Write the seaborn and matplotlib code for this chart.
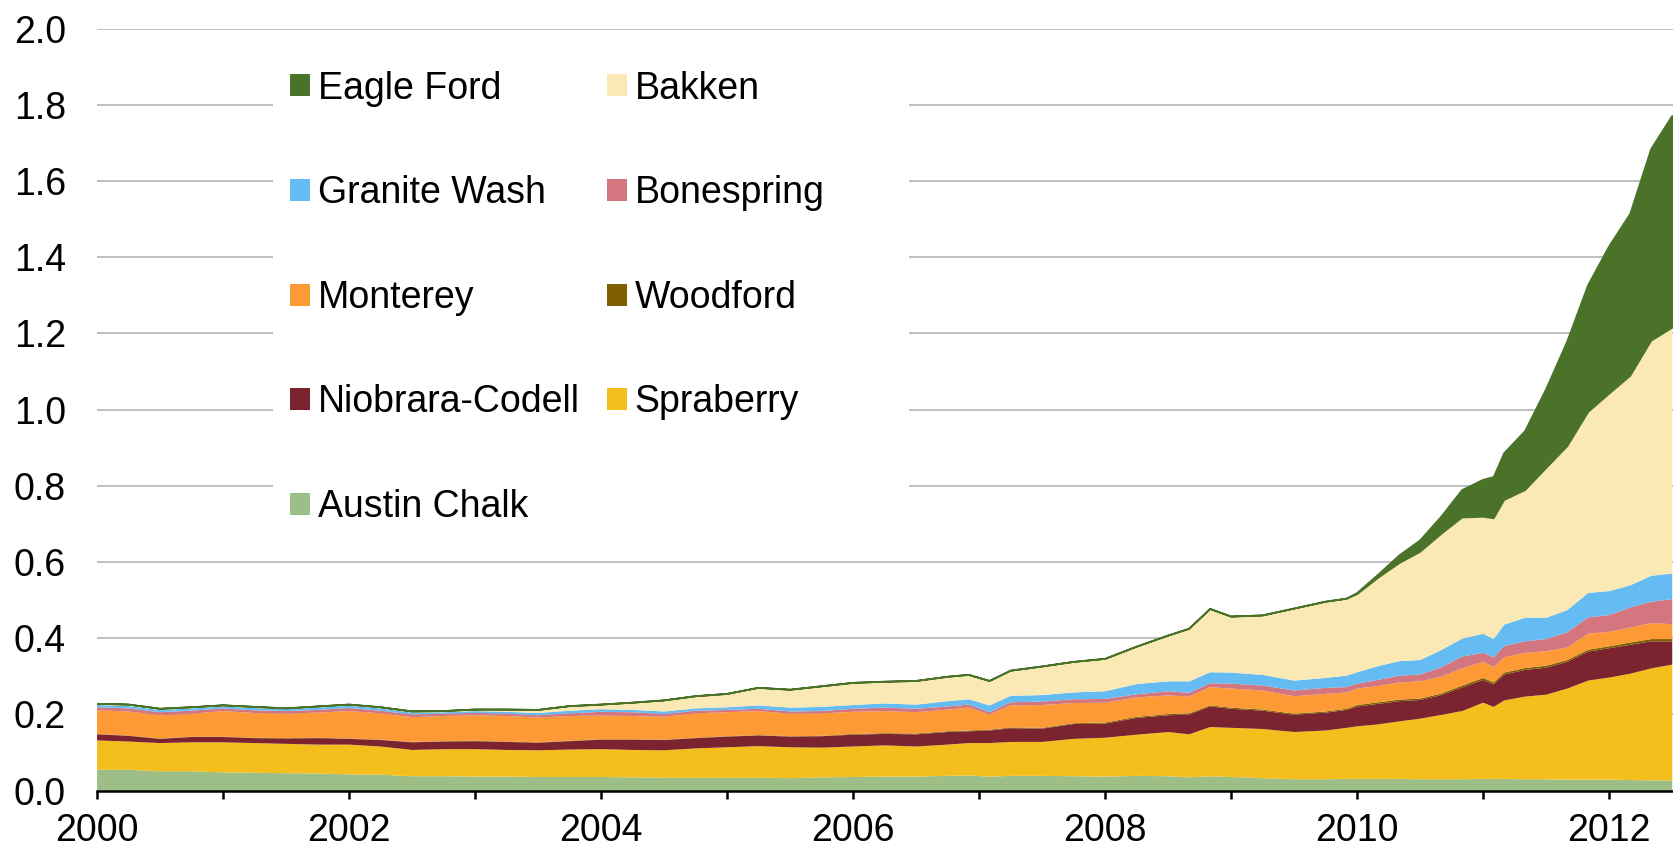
import numpy as np
import pandas as pd
import matplotlib
matplotlib.use("Agg")
import matplotlib.pyplot as plt
from matplotlib.patches import Patch, Rectangle
import seaborn as sns

# ---------------- data (million barrels per day, decimal years) ----------------
dates = [2000.0, 2000.25, 2000.5, 2000.75, 2001.0, 2001.25, 2001.5, 2001.75, 2002.0,
         2002.25, 2002.5, 2002.75, 2003.0, 2003.25, 2003.5, 2003.75, 2004.0,
         2004.25, 2004.5, 2004.75, 2005.0, 2005.25, 2005.5, 2005.75, 2006.0, 2006.25,
         2006.5, 2006.75, 2006.917, 2007.083, 2007.25, 2007.5, 2007.75, 2008.0,
         2008.25, 2008.5, 2008.667, 2008.833, 2009.0, 2009.25, 2009.5, 2009.75,
         2009.917, 2010.0, 2010.167, 2010.333, 2010.5, 2010.667, 2010.833, 2011.0,
         2011.083, 2011.167, 2011.333, 2011.5, 2011.667, 2011.833, 2012.0, 2012.167,
         2012.333, 2012.5]

austin_chalk = [.056, .056, .052, .052, .049, .048, .047, .046, .044,
                .043, .039, .039, .038, .038, .037, .037, .037,
                .036, .035, .035, .035, .035, .034, .036, .037, .038,
                .038, .040, .041, .038, .040, .040, .039, .038,
                .040, .039, .036, .039, .037, .034, .031, .031,
                .032, .032, .032, .032, .031, .031, .031, .032,
                .032, .032, .031, .031, .030, .030, .030, .029,
                .028, .028]
spraberry = [.077, .074, .074, .076, .079, .078, .077, .076, .078,
             .074, .069, .071, .072, .070, .070, .072, .073,
             .072, .072, .077, .080, .083, .081, .078, .080, .082,
             .079, .082, .085, .088, .089, .089, .098, .102,
             .108, .116, .113, .129, .129, .129, .124, .128,
             .134, .138, .143, .151, .159, .169, .179, .200,
             .189, .206, .217, .222, .239, .260, .268, .279,
             .294, .304]
niobrara_codell = [.016, .015, .011, .014, .014, .013, .014, .017, .015,
                   .017, .020, .020, .021, .021, .020, .022, .025,
                   .027, .027, .027, .028, .028, .028, .030, .031, .030,
                   .032, .033, .031, .033, .036, .035, .039, .037,
                   .044, .044, .052, .054, .050, .048, .045, .047,
                   .047, .052, .054, .053, .049, .052, .062, .060,
                   .059, .068, .070, .071, .070, .076, .077, .076,
                   .071, .061]
woodford = [.001, .001, .001, .001, .001, .001, .001, .001, .001,
            .001, .001, .001, .001, .001, .001, .001, .001,
            .001, .001, .001, .001, .001, .001, .001, .002, .002,
            .002, .002, .002, .002, .002, .002, .002, .003,
            .003, .003, .003, .003, .003, .003, .003, .003,
            .003, .004, .004, .004, .004, .004, .005, .005,
            .005, .005, .005, .005, .005, .005, .005, .006,
            .006, .006]
monterey = [.062, .063, .061, .060, .067, .065, .064, .066, .072,
            .069, .065, .066, .067, .067, .065, .065, .062,
            .061, .060, .064, .063, .063, .059, .059, .058, .058,
            .056, .057, .060, .040, .058, .060, .053, .052,
            .051, .049, .044, .048, .050, .050, .046, .046,
            .043, .043, .043, .045, .045, .044, .045, .042,
            .041, .040, .040, .038, .033, .042, .038, .039,
            .042, .039]
bonespring = [.008, .008, .008, .008, .007, .007, .007, .007, .008,
              .007, .007, .006, .006, .006, .006, .007, .010,
              .010, .007, .007, .006, .006, .006, .006, .008, .009,
              .009, .008, .008, .006, .008, .009, .010, .010,
              .008, .011, .010, .010, .013, .013, .015, .016,
              .014, .013, .016, .018, .018, .025, .031, .024,
              .025, .030, .030, .032, .040, .043, .044, .053,
              .056, .066]
granite_wash = [.006, .006, .006, .006, .005, .006, .005, .006, .006,
                .006, .005, .004, .005, .005, .006, .007, .007,
                .006, .007, .006, .007, .009, .010, .011, .010, .011,
                .011, .014, .014, .018, .017, .017, .018, .020,
                .027, .026, .030, .029, .029, .028, .026, .026,
                .030, .030, .036, .038, .038, .045, .047, .050,
                .048, .056, .062, .056, .058, .064, .063, .058,
                .068, .067]
bakken = [.003, .004, .003, .003, .003, .003, .002, .003, .003,
          .003, .003, .003, .004, .006, .008, .012, .012,
          .019, .029, .032, .035, .046, .047, .054, .058, .057,
          .062, .064, .064, .064, .066, .075, .080, .085,
          .098, .120, .138, .166, .147, .156, .189, .200,
          .202, .205, .232, .257, .284, .305, .318, .307,
          .317, .327, .335, .393, .430, .475, .518, .550,
          .617, .645]
eagle_ford = [0, 0, 0, 0, 0, 0, 0, 0, 0,
              0, 0, 0, 0, 0, 0, 0, 0,
              0, 0, 0, 0, 0, 0, 0, 0, 0,
              0, 0, 0, 0, 0, 0, 0, 0,
              0, 0, 0, 0, 0, 0, 0, 0,
              0, .003, .008, .020, .030, .045, .072, .097,
              .108, .123, .155, .207, .275, .333, .387, .425,
              .503, .556]

series_names = ["Austin Chalk", "Spraberry", "Niobrara-Codell", "Woodford", "Monterey",
                "Bonespring", "Granite Wash", "Bakken", "Eagle Ford"]
legend_order = ["Eagle Ford", "Granite Wash", "Monterey", "Niobrara-Codell", "Austin Chalk",
                "Bakken", "Bonespring", "Woodford", "Spraberry"]
x_ticks = list(range(2000, 2013))
x_tick_labels = ["2000", "", "2002", "", "2004", "", "2006", "", "2008", "", "2010", "", "2012"]
y_ticks = [0.0, 0.2, 0.4, 0.6, 0.8, 1.0, 1.2, 1.4, 1.6, 1.8, 2.0]

# ---------------- style ----------------
sns.set_theme(style="white")
plt.rcParams["font.family"] = ["Liberation Sans", "DejaVu Sans"]
plt.rcParams["text.color"] = "black"

FS = 27

palette = {
    "Austin Chalk": "#9DBF87",
    "Spraberry": "#F4BF1C",
    "Niobrara-Codell": "#7B2430",
    "Woodford": "#7F6000",
    "Monterey": "#FD9A35",
    "Bonespring": "#D4767F",
    "Granite Wash": "#65BCF2",
    "Bakken": "#FAE9B4",
    "Eagle Ford": "#4A7229",
}

df = pd.DataFrame({"date": dates, "Austin Chalk": austin_chalk, "Spraberry": spraberry,
                   "Niobrara-Codell": niobrara_codell, "Woodford": woodford,
                   "Monterey": monterey, "Bonespring": bonespring,
                   "Granite Wash": granite_wash, "Bakken": bakken, "Eagle Ford": eagle_ford})

fig = plt.figure(figsize=(16.73, 8.5), dpi=100)
ax = fig.add_axes([0.0577, 0.0699, 0.9423, 0.8965])

polys = ax.stackplot(df["date"], *[df[n] for n in series_names],
                     colors=[palette[n] for n in series_names], linewidth=0, zorder=2)
polys[-1].set_edgecolor(palette["Eagle Ford"])
polys[-1].set_linewidth(1.3)

ax.set_xlim(2000, 2012.51)
ax.set_ylim(0, 2.0)
ax.set_xticks(x_ticks)
ax.set_xticklabels(x_tick_labels)
ax.set_yticks(y_ticks)
ax.set_yticklabels([f"{v:.1f}" for v in y_ticks])

ax.yaxis.grid(True, color="#BFBFBF", linewidth=1.4, zorder=0.5)
ax.xaxis.grid(False)
ax.set_axisbelow(True)

sns.despine(ax=ax, left=True, top=True, right=True)
ax.spines["bottom"].set_color("black")
ax.spines["bottom"].set_linewidth(1.8)
ax.spines["bottom"].set_zorder(5)

ax.tick_params(axis="x", direction="out", length=6, width=1.8, color="black",
               labelsize=FS, pad=10, bottom=True, labelcolor="black")
ax.tick_params(axis="y", length=0, labelsize=FS, pad=22, labelcolor="black")

# white panel behind legend (covers gridlines like the original)
ax.add_patch(Rectangle((0.112, 0.3486), 0.4034, 0.6246, transform=ax.transAxes,
                       facecolor="white", edgecolor="none", zorder=1.5))

handles = [Patch(facecolor=palette[n], edgecolor="none") for n in legend_order]
leg = ax.legend(handles, legend_order, loc="upper left", bbox_to_anchor=(0.1126, 0.966),
                ncol=2, frameon=False, fontsize=FS, handlelength=0.53, handleheight=0.53,
                handletextpad=0.21, labelspacing=1.83, columnspacing=0.72,
                borderpad=0.43, borderaxespad=0, labelcolor="black")
leg.set_zorder(6)

fig.savefig("out.png", dpi=100)
